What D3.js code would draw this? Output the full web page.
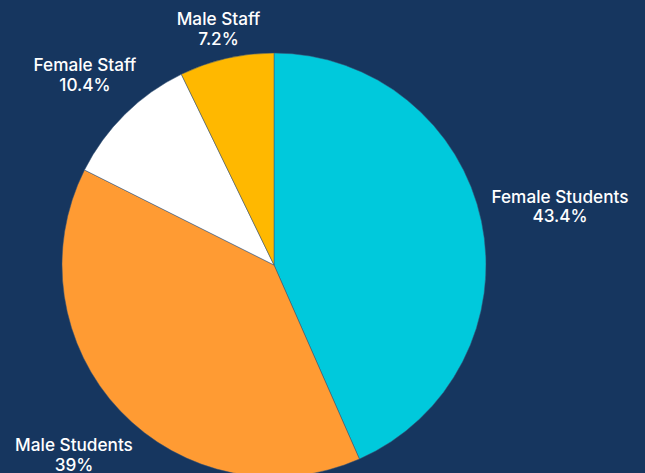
<!DOCTYPE html>
<html>
<head>
<meta charset="utf-8">
<script src="https://cdn.jsdelivr.net/npm/d3@7"></script>
<style>
  html, body { margin: 0; padding: 0; background: #16365f; overflow: hidden; }
  svg { display: block; }
  text { font-family: Inter, "Open Sans", sans-serif; font-weight: 500; fill: #ffffff; }
</style>
</head>
<body>
<svg id="chart" width="645" height="473"></svg>
<script>
const categories = ["Female Students", "Male Students", "Female Staff", "Male Staff"];
const values = [43.4, 39, 10.4, 7.2];
const valueLabels = ["43.4%", "39%", "10.4%", "7.2%"];
const colors = ["#00c9dc", "#ff9b33", "#ffffff", "#ffb800"];

// label anchor layout (centre x, first-line baseline), keyed by category
const labelLayout = {
  "Female Students": [560, 202.5],
  "Male Students": [74, 451],
  "Female Staff": [85, 71],
  "Male Staff": [218.5, 25]
};

const width = 645, height = 473;
const cx = 274, cy = 265, radius = 212;

const svg = d3.select("#chart");
const g = svg.append("g").attr("transform", `translate(${cx},${cy})`);

const data = categories.map((c, i) => ({ name: c, value: values[i], label: valueLabels[i], color: colors[i] }));

const pie = d3.pie().sort(null).value(d => d.value);
const arc = d3.arc().innerRadius(0).outerRadius(radius);

g.selectAll("path")
  .data(pie(data))
  .join("path")
  .attr("d", arc)
  .attr("fill", d => d.data.color)
  .attr("stroke", "#3b5676")
  .attr("stroke-width", 0.5);

const fs = 17.2;
const lineGap = 19.6;
const labels = svg.append("g");
data.forEach(d => {
  const [x, y] = labelLayout[d.name];
  const t = labels.append("text")
    .attr("text-anchor", "middle")
    .style("font-size", fs + "px");
  t.append("tspan").attr("x", x).attr("y", y).text(d.name);
  t.append("tspan").attr("x", x).attr("y", y + lineGap).text(d.label);
});
</script>
</body>
</html>
